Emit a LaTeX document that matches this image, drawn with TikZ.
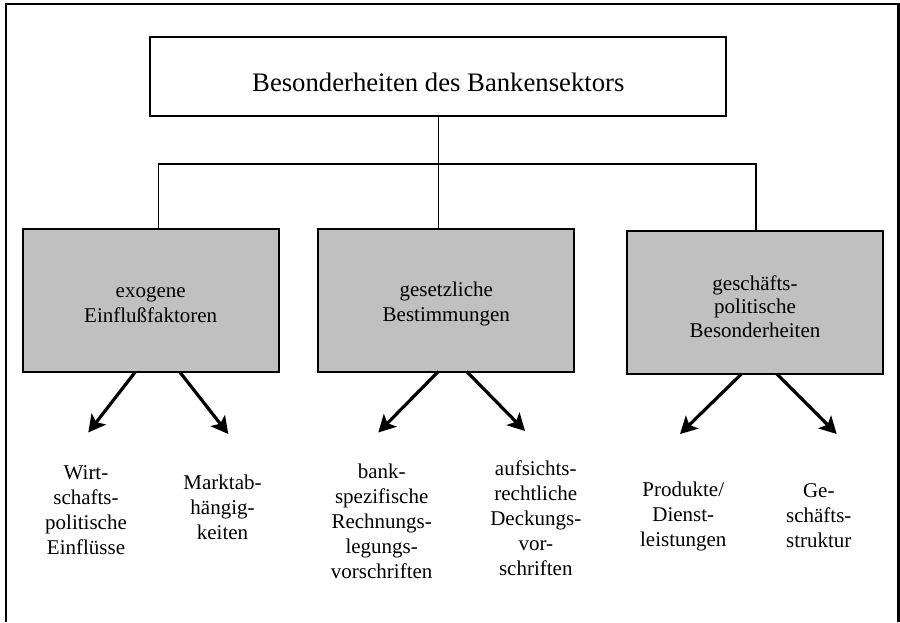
\documentclass[tikz,border=0pt]{standalone}
\usepackage{fontspec}
\setmainfont{Liberation Serif}
\usetikzlibrary{arrows.meta}
\begin{document}
\begin{tikzpicture}[x=1pt,y=-1pt,
  topbox/.style={draw,line width=2pt,fill=white,inner sep=0pt,outer sep=0pt,
    minimum width=576pt,minimum height=79pt,
    font=\fontsize{26.7}{30}\selectfont,text height=30.4pt,text depth=0pt},
  graybox/.style={draw,line width=2pt,fill={rgb,255:red,192;green,192;blue,192},
    inner sep=0pt,outer sep=0pt,minimum width=256pt,minimum height=143pt,
    align=center,font=\fontsize{21}{25.4}\selectfont,text depth=0pt},
  leaf/.style={align=center,inner sep=0pt,font=\fontsize{21}{25}\selectfont},
  conn/.style={line width=1.5pt},
  arr/.style={line width=3.2pt,-{Stealth[length=17pt,width=18pt,inset=4pt]}}]
\useasboundingbox (0,0) rectangle (900,622);
% frame (open at the bottom)
\draw[line width=2.5pt] (6,622) -- (6,4) -- (898.5,4) -- (898.5,622);

\node[topbox] (top) at (438.3,76.5) {Besonderheiten des Bankensektors};

\node[graybox,text height=43.8pt] (b1) at (150.7,300.8) {exogene\\Einflußfaktoren};
\node[graybox,text height=43.4pt] (b2) at (446.3,300) {gesetzliche\\Bestimmungen};
\node[graybox,text height=70.2pt,font=\fontsize{21}{23.6}\selectfont] (b3) at (755,302.2) {geschäfts-\\politische\\Besonderheiten};

% connectors
\coordinate (j1) at (158.3,164);
\coordinate (j2) at (438.3,164);
\coordinate (j3) at (756,164);
\draw[conn] (top.south) -- (j2);
\draw[conn] (b1.north -| j1) -- (j1) -- (j3) -- (b3.north -| j3);
\draw[conn] (j2) -- (b2.north -| j2);

% leaf labels
\node[leaf] (l1) at (86,510) {Wirt-\\schafts-\\politische\\Einflüsse};
\node[leaf] (l2) at (222.5,507.5) {Marktab-\\hängig-\\keiten};
\node[leaf] (l3) at (381.7,521) {bank-\\spezifische\\Rechnungs-\\legungs-\\vorschriften};
\node[leaf] (l4) at (535.8,518) {aufsichts-\\rechtliche\\Deckungs-\\vor-\\schriften};
\node[leaf] (l5) at (683.3,516) {Produkte/\\Dienst-\\leistungen};
\node[leaf] (l6) at (818.8,516) {Ge-\\schäfts-\\struktur};

% arrow tips
\coordinate (t1) at (88.3,432.5);
\coordinate (t2) at (228.3,434);
\coordinate (t3) at (378.3,432.5);
\coordinate (t4) at (525,431);
\coordinate (t5) at (680,434);
\coordinate (t6) at (836.7,434);

\draw[arr] (b1.south -| 135,0) -- (t1);
\draw[arr] (b1.south -| 180,0) -- (t2);
\draw[arr] (b2.south -| 438.3,0) -- (t3);
\draw[arr] (b2.south -| 466.7,0) -- (t4);
\draw[arr] (b3.south -| 741.7,0) -- (t5);
\draw[arr] (b3.south -| 776.7,0) -- (t6);
\end{tikzpicture}
\end{document}
